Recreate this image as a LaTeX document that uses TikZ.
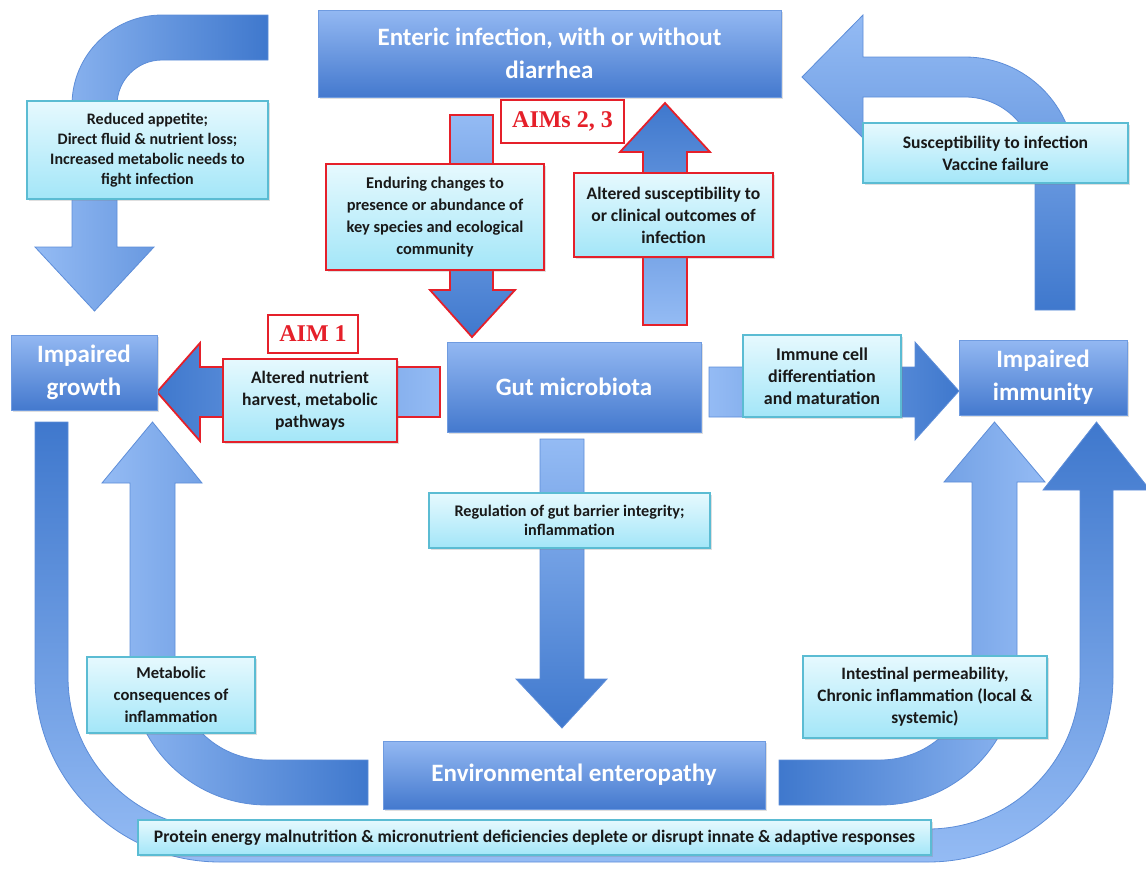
\documentclass[tikz,border=0pt]{standalone}
\usepackage{fontspec}
\setmainfont{Carlito}
\newfontfamily\aimfont{Liberation Serif}
\usepackage{xcolor}
\usetikzlibrary{shadows}

\definecolor{boxtop}{HTML}{93B8F2}
\definecolor{boxbot}{HTML}{4479CE}
\definecolor{boxline}{HTML}{6F9BE0}
\definecolor{labtop}{HTML}{E6F9FE}
\definecolor{labbot}{HTML}{A3E6F8}
\definecolor{labline}{HTML}{5BBCD3}
\definecolor{arlight}{HTML}{94BBF4}
\definecolor{ardark}{HTML}{3F78CD}
\definecolor{arline}{HTML}{5D8DD8}
\definecolor{aimred}{HTML}{E5202A}

\begin{document}
\begin{tikzpicture}[x=0.5pt, y=-0.5pt,
    boxsize/.style 2 args={minimum width=#1, minimum height=#2},
    txt/.style 2 args={font=\fontsize{#1}{#2}\selectfont\bfseries},
    softshadow/.style={drop shadow={opacity=0.25, shadow xshift=0.8pt, shadow yshift=-0.8pt}},
    mainbox/.style={draw=boxline, line width=0.5pt, top color=boxtop, bottom color=boxbot,
        text=white, txt={12.5}{16.5}, align=center, inner sep=0pt, softshadow},
    labelbox/.style={draw=labline, line width=0.6pt, top color=labtop, bottom color=labbot,
        text=black!90, txt={8.8}{11}, align=center, inner sep=0pt, softshadow},
    aimlabel/.style={labelbox, draw=aimred, line width=0.9pt},
    aimtag/.style={draw=aimred, fill=white, line width=0.8pt, text=aimred, inner sep=0pt,
        font=\aimfont\bfseries\fontsize{12}{14}\selectfont},
    blockarrow/.style={draw=arline, line width=0.4pt},
    aimarrow/.style={draw=aimred, line width=0.9pt}]

    \useasboundingbox (0,0) rectangle (1146,869);

    % --- ARROWS ---
    % Infection -> growth (curved, top left)
    \path[blockarrow, left color=arlight, right color=ardark]
        (268,15) -- (162,15) arc[start angle=270, end angle=180, radius=90]
        -- (72,247) -- (35,247) -- (94.5,311) -- (154,247) -- (117,247)
        -- (117,105) arc[start angle=180, end angle=270, radius=45]
        -- (268,60) -- cycle;

    % Immunity -> infection (curved, top right)
    \path[blockarrow, top color=arlight, bottom color=ardark]
        (802,77) -- (863,15) -- (863,57) -- (965,57) arc[start angle=270, end angle=360, radius=110]
        -- (1075,310) -- (1035,310)
        -- (1035,167) arc[start angle=0, end angle=-90, radius=70]
        -- (863,97) -- (863,138) -- cycle;

    % Infection -> microbiota (AIMs 2, 3)
    \path[aimarrow, top color=arlight, bottom color=ardark]
        (450,115) -- (493,115) -- (493,290) -- (515,290) -- (472,337) -- (430,290) -- (450,290) -- cycle;

    % Microbiota -> infection (AIMs 2, 3)
    \path[aimarrow, bottom color=arlight, top color=ardark]
        (643,325) -- (687,325) -- (687,152) -- (710,152) -- (665,103) -- (620,152) -- (643,152) -- cycle;

    % Microbiota -> growth (AIM 1)
    \path[aimarrow, right color=arlight, left color=ardark]
        (440,367) -- (200,367) -- (200,343) -- (157,392) -- (200,441) -- (200,417) -- (440,417) -- cycle;

    % Microbiota -> immunity
    \path[blockarrow, left color=arlight, right color=ardark]
        (709,367) -- (915,367) -- (915,342) -- (959,391) -- (915,440) -- (915,417) -- (709,417) -- cycle;

    % Microbiota -> enteropathy
    \path[blockarrow, top color=arlight, bottom color=ardark]
        (540,439) -- (584,439) -- (584,679) -- (607,679) -- (562,728) -- (516,679) -- (540,679) -- cycle;

    % Enteropathy -> growth (inner left)
    \path[blockarrow, left color=arlight, right color=ardark]
        (368,760) -- (267,760) arc[start angle=90, end angle=180, radius=92]
        -- (175,483) -- (202,483) -- (152.5,422) -- (102,483) -- (130,483)
        -- (130,668) arc[start angle=180, end angle=90, radius=137]
        -- (368,805) -- cycle;

    % Enteropathy -> immunity (inner right)
    \path[blockarrow, left color=ardark, right color=arlight]
        (779,760) -- (880,760) arc[start angle=90, end angle=0, radius=92]
        -- (972,482) -- (944,482) -- (994.5,422) -- (1045,482) -- (1017,482)
        -- (1017,668) arc[start angle=0, end angle=90, radius=137]
        -- (779,805) -- cycle;

    % Growth -> immunity (outer loop)
    \path[blockarrow, top color=ardark, bottom color=arlight]
        (35,422) -- (68,422) -- (68,677) arc[start angle=180, end angle=90, radius=152]
        -- (928,829) arc[start angle=90, end angle=0, radius=152]
        -- (1080,490) -- (1043,490) -- (1096.5,422) -- (1150,490) -- (1113,490)
        -- (1113,677) arc[start angle=0, end angle=90, radius=185]
        -- (220,862) arc[start angle=90, end angle=180, radius=185]
        -- cycle;

    % --- MAIN BOXES ---
    \node[mainbox, boxsize={231.5pt}{43.5pt}] (enteric) at (549.5,53.5) {Enteric infection, with or without\\diarrhea};
    \node[mainbox, boxsize={73pt}{37.5pt}] (growth) at (84,372.5) {Impaired\\growth};
    \node[mainbox, boxsize={127pt}{45pt}] (gut) at (574,387) {Gut microbiota};
    \node[mainbox, boxsize={84pt}{37.5pt}] (immunity) at (1043,377.5) {Impaired\\immunity};
    \node[mainbox, boxsize={191pt}{34pt}] (entero) at (574,775) {Environmental enteropathy};

    % --- LABELS ---
    \node[labelbox, txt={8}{10}, boxsize={120.5pt}{49pt}] (appetite) at (147.5,150)
        {Reduced appetite;\\Direct fluid \& nutrient loss;\\Increased metabolic needs to\\fight infection};
    \node[aimlabel, txt={8.2}{11}, boxsize={109pt}{53pt}] (species) at (435,217)
        {Enduring changes to\\presence or abundance of\\key species and ecological\\community};
    \node[aimtag, boxsize={61.5pt}{21.5pt}] (aims) at (562.5,121.5) {AIMs 2, 3};
    \node[aimlabel, boxsize={99.5pt}{42pt}] (outcomes) at (673.5,215)
        {Altered susceptibility to\\or clinical outcomes of\\infection};
    \node[labelbox, boxsize={132.5pt}{30pt}] (vaccine) at (995.5,153)
        {Susceptibility to infection\\Vaccine failure};
    \node[aimtag, boxsize={45pt}{19pt}] (aimone) at (313,334) {AIM 1};
    \node[aimlabel, boxsize={87pt}{41.5pt}] (harvest) at (310,400.5)
        {Altered nutrient\\harvest, metabolic\\pathways};
    \node[labelbox, txt={9}{11}, boxsize={79pt}{41pt}] (immune) at (822,376)
        {Immune cell\\differentiation\\and maturation};
    \node[labelbox, txt={8.1}{9.5}, boxsize={140.5pt}{27.5pt}] (barrier) at (569.5,520.5)
        {Regulation of gut barrier integrity;\\inflammation};
    \node[labelbox, txt={8.3}{11}, boxsize={84pt}{38pt}] (metabolic) at (171,695)
        {Metabolic\\consequences of\\inflammation};
    \node[labelbox, txt={8.7}{11}, boxsize={122pt}{41pt}] (permeab) at (925,697)
        {Intestinal permeability,\\Chronic inflammation (local \&\\systemic)};
    \node[labelbox, boxsize={396.5pt}{17.5pt}] (protein) at (534.5,837.5)
        {Protein energy malnutrition \& micronutrient deficiencies deplete or disrupt innate \& adaptive responses};

\end{tikzpicture}
\end{document}
